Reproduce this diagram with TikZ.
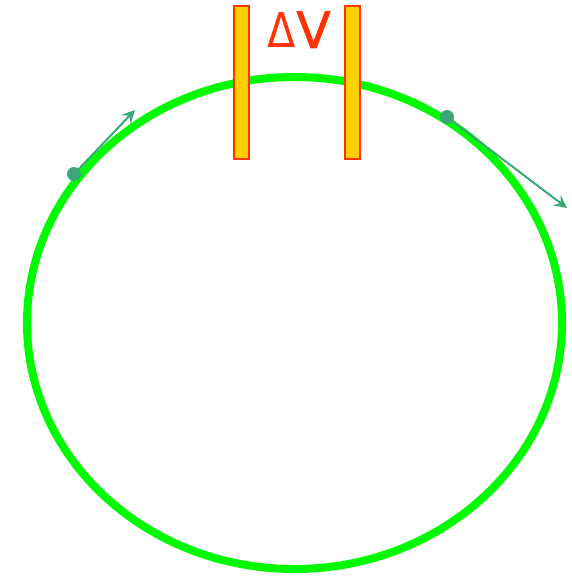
\documentclass[tikz,border=0pt]{standalone}
\usepackage{fontspec}
\setmainfont{DejaVu Sans}
\newfontfamily\vfont[FakeBold=1.3]{DejaVu Sans}
\usetikzlibrary{arrows.meta}
\definecolor{ringgreen}{RGB}{0,250,0}
\definecolor{platefill}{RGB}{255,208,0}
\definecolor{platered}{RGB}{255,51,0}
\definecolor{dotteal}{RGB}{60,165,122}
\tikzset{
  plate/.style={draw=platered, fill=platefill, line width=2bp, rectangle, inner sep=0pt, minimum width=15bp, minimum height=153bp},
  chargedot/.style={circle, fill=dotteal, inner sep=0pt, minimum size=14bp},
  velarrow/.style={draw=dotteal, line width=2bp, -{Stealth[length=13bp,width=13bp,inset=5bp]}},
  ring/.style={draw=ringgreen, line width=8bp}
}
\begin{document}
\begin{tikzpicture}[x=1bp,y=-1bp]
\useasboundingbox (0,0) rectangle (572,576);
\draw[ring] (294.5,323) ellipse [x radius=267.5, y radius=246];
\node[plate] (pl) at (241.5,82.5) {};
\node[plate] (pr) at (352.5,82.5) {};
\node[text=platered, anchor=base west, inner sep=0pt] (dv) at (267,48) {\scalebox{0.86}[1]{\fontsize{48bp}{48bp}\selectfont Δ}\kern1bp{\vfont\fontsize{50bp}{50bp}\selectfont V}};
\node[chargedot] (d1) at (74,174) {};
\coordinate (t1) at (135,110);
\draw[velarrow] (d1.center) -- (t1);
\node[chargedot] (d2) at (447,117) {};
\coordinate (t2) at (567,208);
\draw[velarrow] (d2.center) -- (t2);
\end{tikzpicture}
\end{document}
